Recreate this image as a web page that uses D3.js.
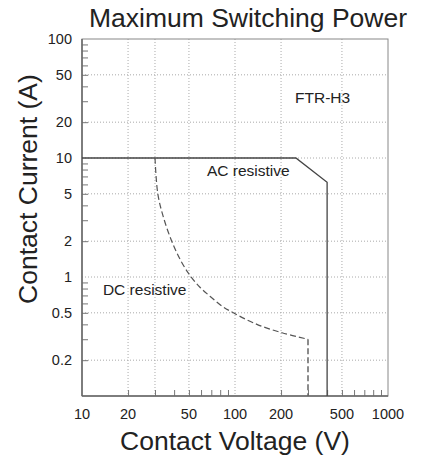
<!DOCTYPE html>
<html><head><meta charset="utf-8">
<script src="https://cdn.jsdelivr.net/npm/d3@7"></script>
<style>body{margin:0;background:#fff}svg{display:block}text{font-family:"Liberation Sans",Arial,sans-serif;fill:#222}</style>
</head><body><svg id="c" width="422" height="461"></svg>
<script>
const xTickLabels = [10, 20, 50, 100, 200, 500, 1000];
const yTickLabels = [100, 50, 20, 10, 5, 2, 1, 0.5, 0.2];
const xGrid = [20, 30, 50, 100, 200, 500];
const yGrid = [50, 20, 10, 5, 2, 1, 0.5, 0.2];
const acVoltage = [10, 250, 400, 400];
const acCurrent = [10, 10, 6.25, 0.1];
const dcVoltage = [30, 31.3, 34, 38.6, 44.4, 50.8, 59, 68.6, 82.2, 97.5, 139, 203, 300];
const dcCurrent = [10, 5, 3.2, 2, 1.36, 1.03, 0.82, 0.69, 0.57, 0.5, 0.4, 0.34, 0.3];
const dcDrop = [[300, 0.3], [300, 0.1]];
const labels = [{t:"FTR-H3", v:247, a:32}, {t:"AC resistive", v:65.6, a:7.8}, {t:"DC resistive", v:13.7, a:0.79}];

const svg = d3.select("#c");
const L = 82, R = 388, T = 39, B = 396;
const x = d3.scaleLog().domain([10, 1000]).range([L, R]);
const y = d3.scaleLog().domain([0.1, 100]).range([B, T]);

// grid
const g = svg.append("g");
g.selectAll(".vg").data(xGrid).join("line")
  .attr("x1", d => x(d)).attr("x2", d => x(d)).attr("y1", T).attr("y2", B)
  .attr("stroke", "#aaa").attr("stroke-width", 1).attr("stroke-dasharray", "1,2");
g.selectAll(".hg").data(yGrid).join("line")
  .attr("y1", d => y(d)).attr("y2", d => y(d)).attr("x1", L).attr("x2", R)
  .attr("stroke", "#aaa").attr("stroke-width", 1).attr("stroke-dasharray", "1,2");

// minor ticks
const minorX = [];
[10, 100].forEach(dec => { for (let k = 2; k <= 9; k++) minorX.push(k * dec); });
const minorY = [];
[0.1, 1, 10].forEach(dec => { for (let k = 2; k <= 9; k++) minorY.push(k * dec); });

const xAxis = d3.axisBottom(x).tickValues(minorX).tickSize(-6).tickFormat("");
svg.append("g").attr("transform", `translate(0,${B})`).call(xAxis)
  .call(a => { a.select(".domain").remove(); a.selectAll("line").attr("stroke", "#777"); });
const yAxis = d3.axisLeft(y).tickValues(minorY).tickSize(-6).tickFormat("");
svg.append("g").attr("transform", `translate(${L},0)`).call(yAxis)
  .call(a => { a.select(".domain").remove(); a.selectAll("line").attr("stroke", "#777"); });

// frame
svg.append("rect").attr("x", L).attr("y", T).attr("width", R - L).attr("height", B - T)
  .attr("fill", "none").attr("stroke", "#888").attr("stroke-width", 1);
svg.append("line").attr("x1", L).attr("x2", L).attr("y1", T).attr("y2", B).attr("stroke", "#666").attr("stroke-width", 1.5);
svg.append("line").attr("x1", L).attr("x2", R).attr("y1", B).attr("y2", B).attr("stroke", "#666").attr("stroke-width", 1.5);

// tick labels
svg.selectAll(".xl").data(xTickLabels).join("text")
  .attr("x", d => x(d)).attr("y", 419).attr("text-anchor", "middle")
  .attr("font-size", 14.5).text(d => d);
svg.selectAll(".yl").data(yTickLabels).join("text")
  .attr("x", 72).attr("y", d => y(d)).attr("dy", "0.36em").attr("text-anchor", "end")
  .attr("font-size", 14.5).text(d => d);

// lines
const line = d3.line().x(d => x(d[0])).y(d => y(d[1]));
svg.append("path").datum(acVoltage.map((v, i) => [v, acCurrent[i]]))
  .attr("d", line).attr("fill", "none").attr("stroke", "#444").attr("stroke-width", 1.3);
svg.append("path").datum(dcVoltage.map((v, i) => [v, dcCurrent[i]]))
  .attr("d", d3.line().x(d => x(d[0])).y(d => y(d[1])).curve(d3.curveCatmullRom.alpha(0.5)))
  .attr("fill", "none").attr("stroke", "#555")
  .attr("stroke-width", 1.2).attr("stroke-dasharray", "6,3");
svg.append("path").datum(dcDrop)
  .attr("d", line).attr("fill", "none").attr("stroke", "#666")
  .attr("stroke-width", 1.5).attr("stroke-dasharray", "6,3");

// annotations
svg.selectAll(".an").data(labels).join("text")
  .attr("x", d => x(d.v)).attr("y", d => y(d.a)).attr("dy", "0.36em")
  .attr("font-size", 15.5).text(d => d.t);

// titles
svg.append("text").attr("x", 248).attr("y", 27).attr("text-anchor", "middle")
  .attr("font-size", 26.5).text("Maximum Switching Power");
svg.append("text").attr("x", 235).attr("y", 450).attr("text-anchor", "middle")
  .attr("font-size", 26.5).text("Contact Voltage (V)");
svg.append("text").attr("transform", "translate(36.5,189) rotate(-90)").attr("text-anchor", "middle")
  .attr("font-size", 26.5).text("Contact Current (A)");
</script></body></html>
